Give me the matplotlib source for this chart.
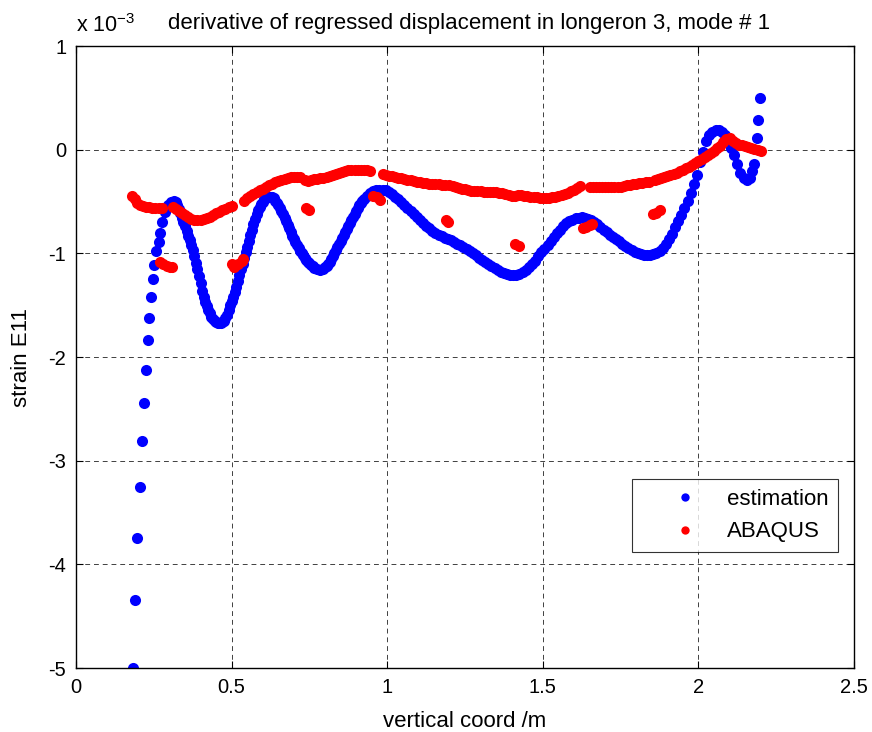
import matplotlib
matplotlib.use("Agg")
import matplotlib.pyplot as plt

plt.rcParams['font.family'] = ['Liberation Sans', 'DejaVu Sans']

# regressed strain estimate (units of 1e-3)
est_x = [0.182, 0.190, 0.195, 0.206, 0.212, 0.218, 0.224, 0.230, 0.236, 0.241,
         0.246, 0.252, 0.258, 0.265, 0.270, 0.276, 0.285, 0.295, 0.305, 0.315,
         0.320, 0.325, 0.330, 0.335, 0.340, 0.345, 0.350, 0.355, 0.360, 0.365,
         0.370, 0.375, 0.380, 0.385, 0.390, 0.395, 0.400, 0.405, 0.410, 0.415,
         0.420, 0.425, 0.430, 0.435, 0.440, 0.445, 0.450, 0.455, 0.460, 0.465,
         0.470, 0.475, 0.480, 0.485, 0.490, 0.495, 0.500, 0.505, 0.510, 0.515,
         0.520, 0.525, 0.530, 0.535, 0.540, 0.545, 0.550, 0.555, 0.560, 0.565,
         0.570, 0.575, 0.580, 0.585, 0.590, 0.595, 0.600, 0.605, 0.610, 0.615,
         0.620, 0.625, 0.630, 0.635, 0.640, 0.645, 0.650, 0.655, 0.660, 0.665,
         0.670, 0.675, 0.680, 0.685, 0.690, 0.695, 0.700, 0.705, 0.710, 0.715,
         0.720, 0.725, 0.730, 0.735, 0.740, 0.745, 0.750, 0.755, 0.760, 0.765,
         0.775, 0.785, 0.795, 0.800, 0.805, 0.810, 0.815, 0.820, 0.825, 0.830,
         0.835, 0.840, 0.845, 0.850, 0.855, 0.860, 0.865, 0.870, 0.875, 0.880,
         0.885, 0.890, 0.895, 0.900, 0.905, 0.910, 0.915, 0.920, 0.925, 0.935,
         0.945, 0.955, 0.965, 0.975, 0.985, 0.995, 1.005, 1.015,
         1.025, 1.035, 1.045, 1.055, 1.065, 1.075, 1.085, 1.095, 1.105, 1.115,
         1.125, 1.135, 1.145, 1.155, 1.165, 1.175, 1.185, 1.195, 1.205, 1.215,
         1.225, 1.235, 1.245, 1.255, 1.265, 1.275, 1.285, 1.295, 1.305, 1.315,
         1.325, 1.335, 1.345, 1.355, 1.365, 1.375, 1.385, 1.395, 1.405, 1.415,
         1.425, 1.435, 1.445, 1.455, 1.465, 1.475, 1.485, 1.495, 1.505, 1.515,
         1.525, 1.535, 1.545, 1.555, 1.565, 1.575, 1.585, 1.595, 1.605, 1.615,
         1.625, 1.635, 1.645, 1.655, 1.665, 1.675, 1.685, 1.695, 1.705, 1.715,
         1.725, 1.735, 1.745, 1.755, 1.765, 1.775, 1.785, 1.795, 1.805, 1.815,
         1.825, 1.835, 1.845, 1.855, 1.865, 1.875, 1.885, 1.895, 1.905, 1.915,
         1.925, 1.935, 1.945, 1.955, 1.965, 1.975, 1.985, 1.995, 2.005, 2.015,
         2.025, 2.035, 2.045, 2.055, 2.065, 2.075, 2.085, 2.095, 2.105, 2.115,
         2.125, 2.135, 2.145, 2.155, 2.165, 2.172, 2.178, 2.187, 2.192, 2.198]
est_y = [-5.00, -4.34, -3.75, -3.25, -2.81, -2.44, -2.125, -1.84, -1.62, -1.42,
         -1.25, -1.11, -0.98, -0.89, -0.80, -0.70, -0.60, -0.53, -0.50, -0.49,
         -0.505, -0.53, -0.57, -0.61, -0.655, -0.70, -0.74, -0.78, -0.83, -0.87,
         -0.92, -0.97, -1.03, -1.09, -1.15, -1.22, -1.29, -1.36, -1.42, -1.47,
         -1.51, -1.55, -1.58, -1.61, -1.63, -1.65, -1.66, -1.67, -1.675, -1.675,
         -1.665, -1.65, -1.62, -1.59, -1.55, -1.50, -1.46, -1.42, -1.37, -1.32,
         -1.265, -1.21, -1.155, -1.10, -1.045, -0.99, -0.935, -0.88, -0.825, -0.77,
         -0.72, -0.67, -0.625, -0.58, -0.55, -0.52, -0.50, -0.48, -0.47, -0.46,
         -0.455, -0.455, -0.46, -0.47, -0.49, -0.51, -0.535, -0.56, -0.59, -0.62,
         -0.655, -0.69, -0.725, -0.76, -0.795, -0.83, -0.86, -0.89, -0.92, -0.95,
         -0.975, -1.00, -1.02, -1.04, -1.06, -1.08, -1.095, -1.11, -1.125, -1.14,
         -1.155, -1.16, -1.15, -1.135, -1.12, -1.10, -1.08, -1.055, -1.03, -1.00,
         -0.97, -0.94, -0.91, -0.88, -0.85, -0.82, -0.79, -0.765, -0.74, -0.71,
         -0.68, -0.65, -0.62, -0.59, -0.56, -0.535, -0.51, -0.495, -0.48, -0.45,
         -0.42, -0.40, -0.39, -0.385, -0.385, -0.39, -0.41, -0.43,
         -0.46, -0.48, -0.50, -0.53, -0.56, -0.59, -0.62, -0.65, -0.68, -0.71,
         -0.74, -0.76, -0.78, -0.80, -0.82, -0.835, -0.85, -0.86, -0.875, -0.89,
         -0.905, -0.92, -0.935, -0.955, -0.975, -0.995, -1.015, -1.04, -1.06, -1.08,
         -1.10, -1.12, -1.14, -1.16, -1.18, -1.19, -1.20, -1.21, -1.21, -1.205,
         -1.195, -1.18, -1.16, -1.13, -1.10, -1.07, -1.03, -0.99, -0.955, -0.92,
         -0.88, -0.84, -0.80, -0.77, -0.74, -0.71, -0.69, -0.675, -0.66, -0.655,
         -0.65, -0.655, -0.665, -0.68, -0.70, -0.72, -0.745, -0.77, -0.795, -0.82,
         -0.845, -0.865, -0.885, -0.905, -0.925, -0.945, -0.965, -0.985, -1.00, -1.01,
         -1.015, -1.02, -1.015, -1.01, -0.995, -0.975, -0.945, -0.91, -0.865, -0.81,
         -0.75, -0.69, -0.63, -0.56, -0.49, -0.42, -0.33, -0.24, -0.12, -0.02,
         0.08, 0.14, 0.175, 0.19, 0.19, 0.175, 0.14, 0.09, 0.02, -0.05,
         -0.14, -0.22, -0.27, -0.29, -0.27, -0.21, -0.14, 0.11, 0.29, 0.50]

# finite element reference strain (units of 1e-3)
fem_x = [0.180, 0.188, 0.196, 0.205, 0.215, 0.225, 0.235, 0.245, 0.255, 0.265,
         0.275, 0.270, 0.280, 0.292, 0.302, 0.307,
         0.310, 0.320, 0.330, 0.340, 0.350, 0.360, 0.370, 0.380, 0.390, 0.400,
         0.410, 0.420, 0.430, 0.440, 0.450, 0.460, 0.470, 0.480, 0.490, 0.500,
         0.500, 0.508, 0.520, 0.532, 0.538,
         0.540, 0.550, 0.560, 0.570, 0.580, 0.590, 0.600, 0.610, 0.620, 0.630,
         0.640, 0.650, 0.660, 0.670, 0.680, 0.690, 0.700, 0.710, 0.720,
         0.740, 0.750,
         0.735, 0.745, 0.755, 0.765, 0.775, 0.785, 0.795, 0.805, 0.815, 0.825,
         0.835, 0.845, 0.855, 0.865, 0.875, 0.885, 0.895, 0.905, 0.915, 0.925,
         0.935, 0.945,
         0.955, 0.966, 0.976,
         0.985, 0.995, 1.005, 1.015, 1.025, 1.035, 1.045, 1.055, 1.065, 1.075,
         1.085, 1.095, 1.105, 1.115, 1.125, 1.135, 1.145, 1.155, 1.165, 1.175,
         1.185,
         1.188, 1.195,
         1.200, 1.210, 1.220, 1.230, 1.240, 1.250, 1.260, 1.270, 1.280, 1.290,
         1.300, 1.310, 1.320, 1.330, 1.340, 1.350, 1.360, 1.370, 1.380, 1.390,
         1.400,
         1.412, 1.422,
         1.410, 1.420, 1.430, 1.440, 1.450, 1.460, 1.470, 1.480, 1.490, 1.500,
         1.510, 1.520, 1.530, 1.540, 1.550, 1.560, 1.570, 1.580, 1.590, 1.600,
         1.610, 1.620,
         1.630, 1.640, 1.650, 1.658,
         1.650, 1.660, 1.670, 1.680, 1.690, 1.700, 1.710, 1.720, 1.730, 1.740,
         1.750, 1.760, 1.770, 1.780, 1.790, 1.800, 1.810, 1.820, 1.830, 1.840,
         1.855, 1.865, 1.878,
         1.860, 1.870, 1.880, 1.890, 1.900, 1.910, 1.920, 1.930, 1.940, 1.950,
         1.960, 1.970, 1.980, 1.990, 2.000, 2.010, 2.020, 2.030, 2.040, 2.050,
         2.060, 2.070, 2.080, 2.090, 2.100, 2.110, 2.120, 2.130, 2.140, 2.150,
         2.160, 2.170, 2.180, 2.190, 2.200]
fem_y = [-0.45, -0.48, -0.51, -0.53, -0.54, -0.55, -0.555, -0.56, -0.56, -0.565,
         -0.565, -1.08, -1.10, -1.12, -1.135, -1.13,
         -0.55, -0.57, -0.59, -0.61, -0.63, -0.65, -0.665, -0.675, -0.68, -0.675,
         -0.67, -0.66, -0.645, -0.63, -0.615, -0.60, -0.585, -0.57, -0.555, -0.54,
         -1.10, -1.13, -1.10, -1.07, -1.05,
         -0.49, -0.47, -0.45, -0.43, -0.41, -0.39, -0.375, -0.36, -0.345, -0.33,
         -0.315, -0.30, -0.29, -0.28, -0.27, -0.265, -0.26, -0.26, -0.265,
         -0.56, -0.58,
         -0.29, -0.30, -0.29, -0.285, -0.28, -0.275, -0.27, -0.265, -0.255, -0.245,
         -0.235, -0.225, -0.215, -0.205, -0.20, -0.195, -0.195, -0.195, -0.195, -0.195,
         -0.20, -0.21,
         -0.45, -0.46, -0.485,
         -0.23, -0.24, -0.25, -0.255, -0.26, -0.27, -0.275, -0.28, -0.29, -0.295,
         -0.30, -0.31, -0.315, -0.32, -0.325, -0.33, -0.33, -0.335, -0.335, -0.34,
         -0.34,
         -0.68, -0.70,
         -0.345, -0.35, -0.36, -0.37, -0.375, -0.38, -0.39, -0.395, -0.40, -0.40,
         -0.40, -0.405, -0.405, -0.405, -0.41, -0.41, -0.415, -0.42, -0.43, -0.44,
         -0.445,
         -0.91, -0.93,
         -0.445, -0.44, -0.44, -0.445, -0.45, -0.455, -0.46, -0.46, -0.465, -0.465,
         -0.465, -0.465, -0.46, -0.455, -0.45, -0.44, -0.43, -0.415, -0.40, -0.385,
         -0.37, -0.35,
         -0.76, -0.745, -0.73, -0.715,
         -0.355, -0.355, -0.355, -0.355, -0.36, -0.36, -0.36, -0.36, -0.36, -0.36,
         -0.355, -0.35, -0.345, -0.34, -0.335, -0.33, -0.325, -0.32, -0.315, -0.31,
         -0.62, -0.61, -0.58,
         -0.29, -0.285, -0.275, -0.265, -0.255, -0.245, -0.235, -0.22, -0.21, -0.195,
         -0.18, -0.165, -0.15, -0.13, -0.11, -0.09, -0.07, -0.05, -0.03, -0.01,
         0.02, 0.04, 0.07, 0.10, 0.11, 0.08, 0.06, 0.05, 0.045, 0.04,
         0.03, 0.02, 0.01, 0.0, -0.01]

x_ticks = [0, 0.5, 1, 1.5, 2, 2.5]
y_ticks = [-5, -4, -3, -2, -1, 0, 1]
x_tick_labels = ['0', '0.5', '1', '1.5', '2', '2.5']
y_tick_labels = ['-5', '-4', '-3', '-2', '-1', '0', '1']

fig = plt.figure(figsize=(8.72, 7.32), dpi=100)
ax = fig.add_axes([0.0872, 0.0874, 0.8922, 0.8497])

ax.plot(est_x, est_y, linestyle='none', marker='o', markersize=8.0,
        color='#0000ff', markeredgewidth=0, label='estimation')
ax.plot(fem_x, fem_y, linestyle='none', marker='o', markersize=8.0,
        color='#ff0000', markeredgewidth=0, label='ABAQUS')

ax.set_xlim(0, 2.5)
ax.set_ylim(-5, 1)
ax.set_xticks(x_ticks)
ax.set_yticks(y_ticks)
ax.set_xticklabels(x_tick_labels)
ax.set_yticklabels(y_tick_labels)
ax.tick_params(direction='in', length=5, width=0.8, top=True, right=True,
               labelsize=14.5, pad=7)

ax.grid(True, color='black', linestyle=(0, (5, 4)), linewidth=0.7, alpha=0.75)
for sp in ax.spines.values():
    sp.set_linewidth(1.0)

ax.set_xlabel('vertical coord /m', fontsize=16, labelpad=10)
ax.set_ylabel('strain E11', fontsize=16, labelpad=12)
ax.set_title('derivative of regressed displacement in longeron 3, mode # 1',
             fontsize=16, pad=12, x=0.505)
ax.text(0.0, 1.015, r'x 10$^{\mathregular{-3}}$', transform=ax.transAxes,
        fontsize=15.5, ha='left', va='bottom')

leg = ax.legend(loc='lower right', bbox_to_anchor=(0.98, 0.186),
                fontsize=16, markerscale=0.75, frameon=True, fancybox=False,
                edgecolor='black', borderpad=0.45, handletextpad=0.0,
                labelspacing=0.5, handlelength=3.8, borderaxespad=0.0)
leg.get_frame().set_linewidth(0.8)

fig.savefig('out.png', dpi=100)
